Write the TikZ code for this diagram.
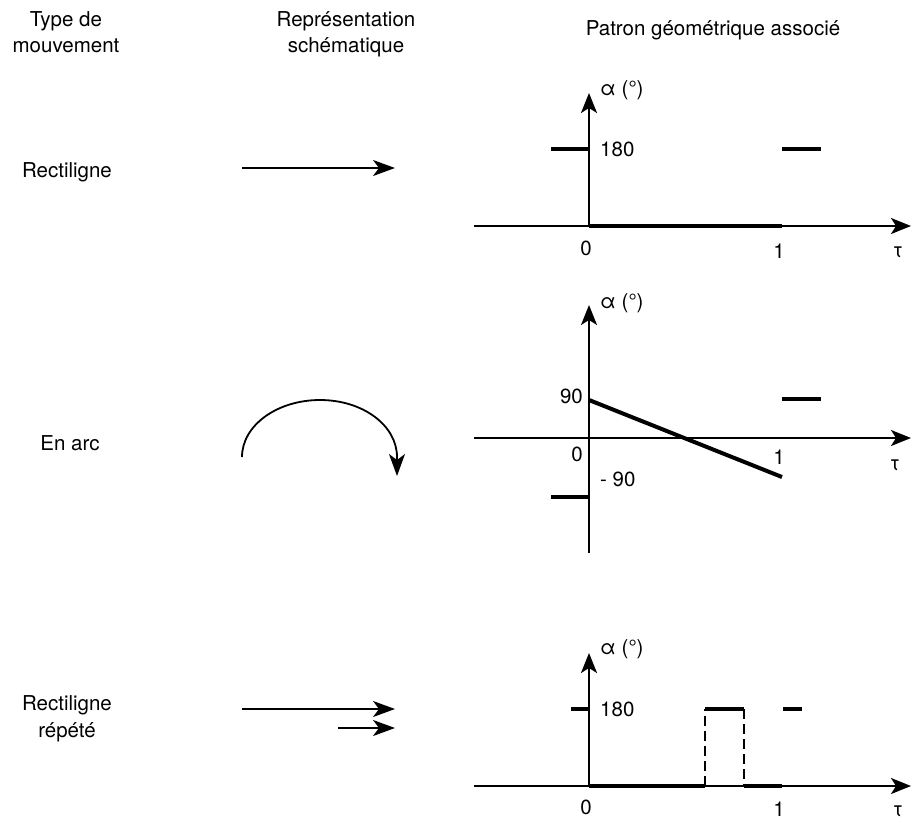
\documentclass[tikz,border=0pt]{standalone}
\usepackage{fontspec}
\setmainfont{TeX Gyre Heros}
\usetikzlibrary{arrows.meta}
\begin{document}
\begin{tikzpicture}[x=1pt,y=-1pt,
  lbl/.style={inner sep=0pt, font=\fontsize{20.5}{25}\selectfont},
  axisline/.style={line width=2pt, -{Stealth[length=20pt,width=16pt,inset=5pt]}},
  motion/.style={line width=1.8pt, -{Stealth[length=22pt,width=16pt,inset=6pt]}},
  plotline/.style={line width=4pt, line cap=butt},
  jump/.style={line width=2pt, dash pattern=on 10pt off 5pt}
]
\useasboundingbox (0,0) rectangle (911,820);

% headers
\node[lbl, anchor=base] (h1a) at (66,26) {Type de};
\node[lbl, anchor=base] (h1b) at (66,52) {mouvement};
\node[lbl, anchor=base] (h2a) at (346,26) {Représentation};
\node[lbl, anchor=base] (h2b) at (346,52) {schématique};
\node[lbl, anchor=base] (h3) at (713,35) {Patron géométrique associé};

% row labels
\node[lbl, anchor=base] (r1) at (67,177) {Rectiligne};
\node[lbl, anchor=base] (r2) at (70,450) {En arc};
\node[lbl, anchor=base] (r3a) at (67,710) {Rectiligne};
\node[lbl, anchor=base] (r3b) at (67,737) {répété};

% schematic arrows
\coordinate (a1s) at (242,168); \coordinate (a1e) at (395,168);
\draw[motion] (a1s) -- (a1e);
\coordinate (arcs) at (242,457); \coordinate (arce) at (397,476);
\draw[motion] (arcs) .. controls (242,425.5) and (277,400) .. (320,400)
  .. controls (363,400) and (397,425.5) .. (397,457) -- (arce);
\coordinate (a3s) at (242,709); \coordinate (a3e) at (395,709);
\coordinate (a4s) at (338,728); \coordinate (a4e) at (395,728);
\draw[motion] (a3s) -- (a3e);
\draw[motion] (a4s) -- (a4e);

% ---------- graph 1 ----------
\coordinate (o1) at (589,226);
\draw[axisline] (o1) -- (589,93);
\draw[axisline] (474,226) -- (911,226);
\draw[plotline] (551,149) -- (589,149);
\draw[plotline] (782,149) -- (821,149);
\draw[plotline] (589,226) -- (782,226);
\node[lbl, anchor=base west] (al1) at (600,95) {α (°)};
\node[lbl, anchor=west] (v1) at (600,149) {180};
\node[lbl] (z1) at (586,248) {0};
\node[lbl] (u1) at (779,251) {1};
\node[lbl, anchor=base] (t1) at (898,257) {τ};

% ---------- graph 2 ----------
\coordinate (o2) at (589,438);
\draw[axisline] (589,553) -- (589,305);
\draw[axisline] (474,438) -- (911,438);
\draw[plotline] (589,400) -- (782,477);
\draw[plotline] (551,497) -- (589,497);
\draw[plotline] (782,399) -- (821,399);
\node[lbl, anchor=base west] (al2) at (600,308) {α (°)};
\node[lbl, anchor=east] (v2) at (583,396) {90};
\node[lbl] (z2) at (577,454) {0};
\node[lbl] (u2) at (779,457) {1};
\node[lbl, anchor=base] (t2) at (895,470) {τ};
\node[lbl, anchor=west] (m2) at (600,479) {- 90};

% ---------- graph 3 ----------
\coordinate (o3) at (589,786);
\draw[axisline] (o3) -- (589,653);
\draw[axisline] (474,786) -- (911,786);
\draw[plotline] (571,709) -- (589,709);
\draw[plotline] (589,786) -- (705,786);
\draw[plotline] (705,709) -- (744,709);
\draw[plotline] (744,786) -- (782,786);
\draw[plotline] (783,709) -- (802,709);
\draw[jump] (705,786) -- (705,709);
\draw[jump] (744,709) -- (744,786);
\node[lbl, anchor=base west] (al3) at (600,654) {α (°)};
\node[lbl, anchor=west] (v3) at (600,709) {180};
\node[lbl] (z3) at (586,807) {0};
\node[lbl] (u3) at (779,809) {1};
\node[lbl, anchor=base] (t3) at (898,816) {τ};
\end{tikzpicture}
\end{document}
